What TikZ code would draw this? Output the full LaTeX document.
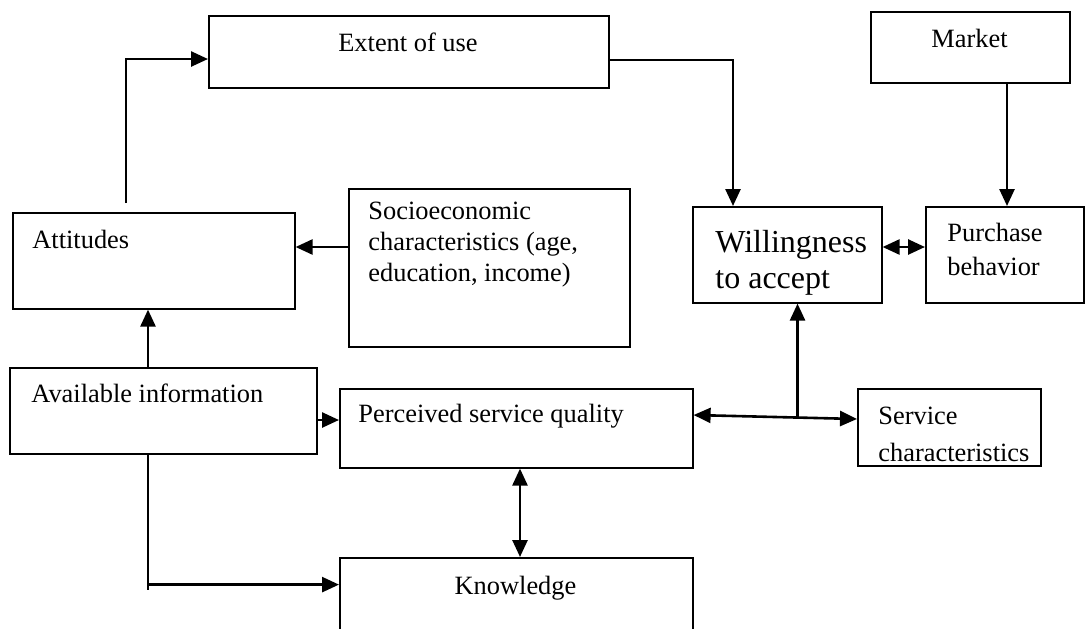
\documentclass[tikz,border=0pt]{standalone}
\usepackage{fontspec}
\setmainfont{Liberation Serif}
\usetikzlibrary{arrows.meta,calc}
\begin{document}
\begin{tikzpicture}[x=0.5pt,y=-0.5pt,
  box/.style={draw, line width=0.8pt, inner sep=0pt, anchor=north west},
  txt/.style={inner sep=0pt, font=\fontsize{13.2pt}{17pt}\selectfont, align=left},
  soctxt/.style={inner sep=0pt, font=\fontsize{13.2pt}{15.5pt}\selectfont, align=left},
  svctxt/.style={inner sep=0pt, font=\fontsize{13.2pt}{18.5pt}\selectfont, align=left},
  bigtxt/.style={inner sep=0pt, font=\fontsize{16pt}{18pt}\selectfont, align=left},
  tip/.tip={Triangle[length=8.5pt,width=7.5pt]},
  arr/.style={line width=1.3pt, -tip},
  darr/.style={line width=1.3pt, tip-tip},
  thinln/.style={line width=1pt}
]
\useasboundingbox (0,0) rectangle (1086,628);
\clip (0,0) rectangle (1086,628);
% boxes
\node[box, minimum width=200pt, minimum height=36pt] (ext) at (208,15) {};
\node[box, minimum width=99.5pt, minimum height=35.5pt] (mkt) at (870,11) {};
\node[box, minimum width=141pt, minimum height=48pt] (att) at (12,212) {};
\node[box, minimum width=140.5pt, minimum height=79pt] (soc) at (348,188) {};
\node[box, minimum width=94.5pt, minimum height=48pt] (will) at (692,206) {};
\node[box, minimum width=79pt, minimum height=48pt] (pur) at (925,206) {};
\node[box, minimum width=153.5pt, minimum height=43pt] (avl) at (9,367) {};
\node[box, minimum width=176.5pt, minimum height=39.5pt] (per) at (339,388) {};
\node[box, minimum width=91.5pt, minimum height=38.5pt] (svc) at (857,388) {};
\node[box, minimum width=176.5pt, minimum height=50pt] (kno) at (339,557) {};
% texts
\node[txt, anchor=base] (ext-t) at (408,51) {Extent of use};
\node[txt, anchor=base] (mkt-t) at (969.5,47) {Market};
\node[txt, anchor=base west] (att-t) at (32,248) {Attitudes};
\node[soctxt, anchor=north west] (soc-t) at (368,202) {Socioeconomic\\characteristics (age,\\education, income)};
\node[bigtxt, anchor=north west] (will-t) at (715,230) {Willingness\\to accept};
\node[txt, anchor=north west] (pur-t) at (947,223) {Purchase\\behavior};
\node[txt, anchor=base west] (avl-t) at (31,402) {Available information};
\node[txt, anchor=base west] (per-t) at (358,422) {Perceived service quality};
\node[svctxt, anchor=north west] (svc-t) at (878,407) {Service\\characteristics};
\node[txt, anchor=base] (kno-t) at (515.5,594) {Knowledge};
% connectors
\coordinate (a1) at ($(att.north west)+(114,-9)$);
\draw[arr] (a1) |- ($(ext.north west)+(0,44)$);
\draw[arr] ($(ext.north east)+(0,45)$) -| ($(will.north west)+(41,0)$);
\coordinate (p1) at ($(pur.north west)+(82,0)$);
\draw[arr] (p1 |- mkt.south) -- (p1);
\draw[darr] ($(will.north east)+(0,41)$) -- ($(pur.north west)+(0,41)$);
\draw[arr] ($(soc.north west)+(0,59)$) -- ($(att.north east)+(0,35)$);
\draw[arr] ($(avl.north west)+(139,0)$) -- ($(att.south west)+(136,0)$);
\draw[arr] ($(avl.north east)+(0,53)$) -- ($(per.north west)+(0,32)$);
\coordinate (q1) at ($(per.north east)+(0,27)$);
\coordinate (q2) at ($(svc.north west)+(0,31)$);
\draw[darr] (q1) -- (q2);
\coordinate (q3) at ($(q1)!0.636!(q2)$);
\draw[arr] (q3) -- (q3 |- will.south);
\coordinate (k1) at ($(per.south west)+(181,0)$);
\draw[darr] (k1) -- (k1 |- kno.north);
\coordinate (v1) at ($(avl.south west)+(139,0)$);
\coordinate (v2) at ($(v1)+(0,135)$);
\coordinate (v3) at ($(v1)+(0,130)$);
\draw[thinln] (v1) -- (v2);
\draw[arr] (v3) -- (v3 -| kno.west);
\end{tikzpicture}
\end{document}
